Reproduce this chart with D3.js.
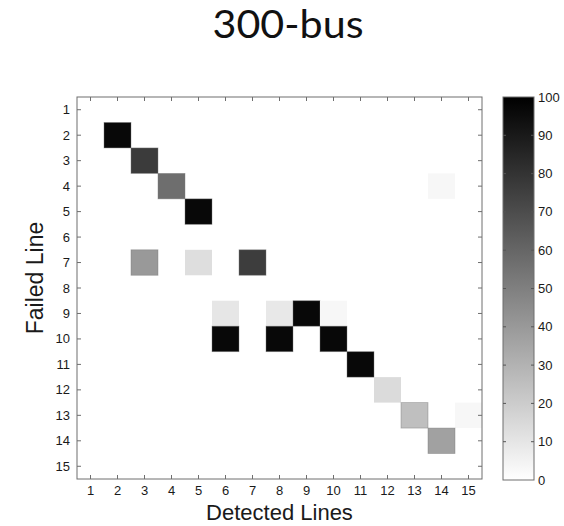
<!DOCTYPE html>
<html>
<head>
<meta charset="utf-8">
<script src="https://cdn.jsdelivr.net/npm/d3@7/dist/d3.min.js"></script>
<style>
  html, body { margin: 0; padding: 0; background: #fff; }
  svg { display: block; }
  text { font-family: "Liberation Sans", Arial, sans-serif; fill: #1a1a1a; }
</style>
</head>
<body>
<svg id="chart" width="564" height="526"></svg>
<script>
// Line indices for both axes
const failedLines = d3.range(1, 16);
const detectedLines = d3.range(1, 16);

// Detection rate (%) per cell: [failed line, detected line, value]
const failedIdx   = [2, 3, 4, 4, 5, 7, 7, 7, 9, 9, 9, 9, 10, 10, 10, 11, 12, 13, 13, 14];
const detectedIdx = [2, 3, 4, 14, 5, 3, 5, 7, 6, 8, 9, 10, 6, 8, 10, 11, 12, 13, 15, 14];
const rates       = [97, 77, 57, 3, 97, 40, 13, 76, 10, 9, 97, 3, 97, 97, 97, 97, 14, 25, 3, 37];

const colorTicks = [0, 10, 20, 30, 40, 50, 60, 70, 80, 90, 100];

const svg = d3.select("#chart");

const plot = { left: 77, top: 97, right: 482, bottom: 479 };
const cbar = { left: 503, right: 534, top: 97, bottom: 480 };

const x = d3.scaleBand().domain(detectedLines).range([plot.left, plot.right]).padding(0);
const y = d3.scaleBand().domain(failedLines).range([plot.top, plot.bottom]).padding(0);
const color = d3.scaleLinear().domain([0, 100]).range(["#ffffff", "#000000"]).clamp(true);

// Title
svg.append("text")
  .attr("x", 288).attr("y", 38)
  .attr("text-anchor", "middle")
  .attr("textLength", 151).attr("lengthAdjust", "spacingAndGlyphs")
  .style("font-family", "Lato, 'Open Sans', sans-serif")
  .style("font-size", "38px")
  .style("fill", "#111")
  .text("300-bus");

// Heatmap cells
const cells = failedIdx.map((f, i) => ({ f, d: detectedIdx[i], v: rates[i] }));
svg.append("g").selectAll("rect").data(cells).join("rect")
  .attr("x", c => x(c.d))
  .attr("y", c => y(c.f))
  .attr("width", x.bandwidth())
  .attr("height", y.bandwidth())
  .attr("fill", c => color(c.v))
  .attr("stroke", c => c.v > 20 ? "rgba(120,120,120,0.5)" : "none")
  .attr("stroke-width", 0.8);

// Plot frame
const axisColor = "#6e6e6e";
svg.append("rect")
  .attr("x", plot.left).attr("y", plot.top)
  .attr("width", plot.right - plot.left).attr("height", plot.bottom - plot.top)
  .attr("fill", "none").attr("stroke", axisColor).attr("stroke-width", 1);

// Inward ticks on all four sides
const tickLen = 4;
const tk = svg.append("g").attr("stroke", axisColor).attr("stroke-width", 1);
detectedLines.forEach(d => {
  const cx = x(d) + x.bandwidth() / 2;
  tk.append("line").attr("x1", cx).attr("x2", cx).attr("y1", plot.bottom).attr("y2", plot.bottom - tickLen);
  tk.append("line").attr("x1", cx).attr("x2", cx).attr("y1", plot.top).attr("y2", plot.top + tickLen);
});
failedLines.forEach(f => {
  const cy = y(f) + y.bandwidth() / 2;
  tk.append("line").attr("y1", cy).attr("y2", cy).attr("x1", plot.left).attr("x2", plot.left + tickLen);
  tk.append("line").attr("y1", cy).attr("y2", cy).attr("x1", plot.right).attr("x2", plot.right - tickLen);
});

// Tick labels
svg.append("g").selectAll("text").data(detectedLines).join("text")
  .attr("x", d => x(d) + x.bandwidth() / 2)
  .attr("y", plot.bottom + 16)
  .attr("text-anchor", "middle")
  .style("font-size", "13px")
  .text(d => d);

svg.append("g").selectAll("text").data(failedLines).join("text")
  .attr("x", plot.left - 7)
  .attr("y", f => y(f) + y.bandwidth() / 2)
  .attr("dy", "0.35em")
  .attr("text-anchor", "end")
  .style("font-size", "13px")
  .text(f => f);

// Axis titles
svg.append("text")
  .attr("x", (plot.left + plot.right) / 2).attr("y", 520)
  .attr("text-anchor", "middle")
  .style("font-size", "22px")
  .text("Detected Lines");

svg.append("text")
  .attr("transform", `translate(43, ${(plot.top + plot.bottom) / 2 - 10}) rotate(-90)`)
  .attr("text-anchor", "middle")
  .style("font-size", "23px")
  .text("Failed Line");

// Colorbar
const defs = svg.append("defs");
const grad = defs.append("linearGradient").attr("id", "cbGrad")
  .attr("x1", 0).attr("y1", 1).attr("x2", 0).attr("y2", 0);
grad.append("stop").attr("offset", "0%").attr("stop-color", color(0));
grad.append("stop").attr("offset", "100%").attr("stop-color", color(100));

const cy = d3.scaleLinear().domain([0, 100]).range([cbar.bottom, cbar.top]);
svg.append("rect")
  .attr("x", cbar.left).attr("y", cbar.top)
  .attr("width", cbar.right - cbar.left).attr("height", cbar.bottom - cbar.top)
  .attr("fill", "url(#cbGrad)")
  .attr("stroke", axisColor).attr("stroke-width", 1);

const cbt = svg.append("g").attr("stroke", "#555").attr("stroke-width", 1);
colorTicks.forEach(t => {
  if (t === 0 || t === 100) return;
  cbt.append("line").attr("x1", cbar.left).attr("x2", cbar.left + 3).attr("y1", cy(t)).attr("y2", cy(t));
  cbt.append("line").attr("x1", cbar.right).attr("x2", cbar.right - 3).attr("y1", cy(t)).attr("y2", cy(t));
});

svg.append("g").selectAll("text").data(colorTicks).join("text")
  .attr("x", cbar.right + 4)
  .attr("y", t => cy(t))
  .attr("dy", "0.35em")
  .style("font-size", "13px")
  .text(t => t);
</script>
</body>
</html>
